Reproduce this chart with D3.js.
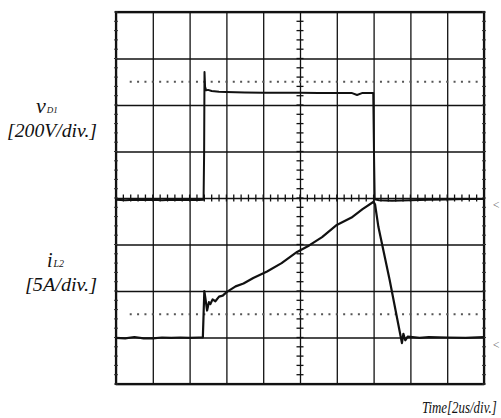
<!DOCTYPE html>
<html>
<head>
<meta charset="utf-8">
<script src="https://cdn.jsdelivr.net/npm/d3@7"></script>
<style>
  body { margin: 0; background: #fff; }
  svg { display: block; }
  .grid line { stroke: #111; stroke-width: 1.3; }
  .grid path { display: none; }
  .lbl { font-family: "Liberation Serif", "DejaVu Serif", serif; font-style: italic; fill: #111; }
</style>
</head>
<body>
<div id="chart"></div>
<script>
// time in us (2us/div, 10 div)
var timeTicks = [0, 2, 4, 6, 8, 10, 12, 14, 16, 18, 20];
// graticule rows in divisions
var divTicks = [-4, -3, -2, -1, 0, 1, 2, 3, 4];

// v_D1 [V], 200V/div, zero on centre line
var vTime = [0, 0.5, 1, 1.5, 2, 2.5, 3, 3.5, 4, 4.5, 4.76, 4.79, 4.81, 4.84, 4.9, 5.0, 5.2, 5.6, 6.0, 7, 8, 9, 10, 11, 12, 12.8, 13.1, 13.4, 13.98, 14.02, 14.06, 14.3, 15, 16, 17, 18, 19, 20];
var vD1   = [-8, -10, -7, -9, -8, -10, -7, -9, -8, -9, -8, 200, 542, 478, 463, 465, 460, 457, 456, 454, 453, 453, 453, 452, 452, 452, 443, 452, 452, 200, -6, -10, -12, -10, -8, -6, -4, -4];

// i_L2 [A], 5A/div, zero 3 div below centre
var iTime = [0, 0.5, 1, 1.5, 2, 2.5, 3, 3.5, 4, 4.5, 4.72, 4.76, 4.8, 4.86, 4.95, 5.05, 5.13, 5.25, 5.4, 5.6, 5.8, 6.03, 6.5, 6.93, 7.46, 8.21, 9.0, 9.84, 10.5, 11.2, 12.0, 12.8, 13.4, 14.0, 14.08, 14.26, 14.87, 15.54, 15.62, 15.72, 15.85, 16.5, 17, 18, 19, 20];
var iL2   = [-0.05, -0.1, 0.05, -0.1, -0.1, 0, -0.05, 0, -0.05, 0, 0, 2.5, 5.0, 4.2, 2.9, 3.8, 3.6, 4.1, 3.9, 4.4, 4.5, 4.9, 5.5, 5.8, 6.4, 7.1, 8.0, 9.2, 9.9, 10.8, 12.1, 12.9, 13.8, 14.6, 14.3, 11.9, 6.2, -0.6, 0.4, -0.3, 0.1, -0.05, 0.05, 0, -0.05, 0.05];

var W = 501, H = 418;
var margin = {top: 12, right: 17, bottom: 34, left: 116};
var width = W - margin.left - margin.right,
    height = H - margin.top - margin.bottom;

var svg = d3.select("#chart").append("svg")
    .attr("width", W)
    .attr("height", H);

var g = svg.append("g").attr("transform", "translate(" + margin.left + "," + margin.top + ")");

var x = d3.scaleLinear().domain([0, 20]).range([0, width]);
var y = d3.scaleLinear().domain([-4, 4]).range([height, 0]);

// graticule
g.append("g")
    .attr("class", "grid")
    .attr("transform", "translate(0," + height + ")")
    .call(d3.axisBottom(x).tickValues(timeTicks).tickSizeInner(-height).tickSizeOuter(0).tickFormat(""));

g.append("g")
    .attr("class", "grid")
    .call(d3.axisLeft(y).tickValues(divTicks).tickSizeInner(-width).tickSizeOuter(0).tickFormat(""));

g.append("rect")
    .attr("width", width)
    .attr("height", height)
    .attr("fill", "none")
    .attr("stroke", "#111")
    .attr("stroke-width", 2.2);

// minor ticks on centre cross
var minorX = d3.range(0, 20.01, 0.4),
    minorY = d3.range(-4, 4.01, 0.2);

g.append("g").selectAll("line")
    .data(minorX)
    .enter().append("line")
    .attr("x1", d => x(d)).attr("x2", d => x(d))
    .attr("y1", y(0) - 3.5).attr("y2", y(0) + 3.5)
    .attr("stroke", "#111").attr("stroke-width", 1.3);

g.append("g").selectAll("line")
    .data(minorY)
    .enter().append("line")
    .attr("x1", x(10) - 3.5).attr("x2", x(10) + 3.5)
    .attr("y1", d => y(d)).attr("y2", d => y(d))
    .attr("stroke", "#111").attr("stroke-width", 1.3);

// small ticks along side edges
[0, 20].forEach(function(edge) {
    g.append("g").selectAll("line")
        .data(minorY)
        .enter().append("line")
        .attr("x1", x(edge) - 2).attr("x2", x(edge) + 2)
        .attr("y1", d => y(d)).attr("y2", d => y(d))
        .attr("stroke", "#333").attr("stroke-width", 1);
});

// dotted level lines
[2.5, -2.5].forEach(function(lv) {
    g.append("g").selectAll("rect")
        .data(d3.range(0.8, 19.7, 0.4))
        .enter().append("rect")
        .attr("x", d => x(d) - 1)
        .attr("y", y(lv) - 1)
        .attr("width", 2)
        .attr("height", 2)
        .attr("fill", "#555");
});

// traces
var lineV = d3.line()
    .x(d => x(d[0]))
    .y(d => y(d[1] / 200));

var lineI = d3.line()
    .x(d => x(d[0]))
    .y(d => y(d[1] / 5 - 3));

g.append("path")
    .attr("d", lineV(d3.zip(vTime, vD1)))
    .attr("fill", "none")
    .attr("stroke", "#111")
    .attr("stroke-width", 2)
    .attr("stroke-linejoin", "round");

g.append("path")
    .attr("d", lineI(d3.zip(iTime, iL2)))
    .attr("fill", "none")
    .attr("stroke", "#111")
    .attr("stroke-width", 2.2)
    .attr("stroke-linejoin", "round");

// channel ground markers on right
[0, -3].forEach(function(lv) {
    svg.append("text")
        .attr("class", "lbl")
        .attr("x", margin.left + width + 8)
        .attr("y", margin.top + y(lv) + 11)
        .attr("font-size", 12)
        .style("fill", "#666")
        .text("<");
});

// labels
var t1 = svg.append("text").attr("class", "lbl").attr("x", 36).attr("y", 113);
t1.append("tspan").attr("font-size", 22).text("v");
t1.append("tspan").attr("font-size", 9).attr("dx", 1).text("D1");

svg.append("text").attr("class", "lbl")
    .attr("x", 7).attr("y", 136.5)
    .attr("font-size", 18)
    .attr("textLength", 90).attr("lengthAdjust", "spacingAndGlyphs")
    .text("[200V/div.]");

var t2 = svg.append("text").attr("class", "lbl").attr("x", 47).attr("y", 266.5);
t2.append("tspan").attr("font-size", 20).text("i");
t2.append("tspan").attr("font-size", 10).attr("dx", 1).text("L2");

svg.append("text").attr("class", "lbl")
    .attr("x", 25).attr("y", 291)
    .attr("font-size", 18)
    .attr("textLength", 72).attr("lengthAdjust", "spacingAndGlyphs")
    .text("[5A/div.]");

svg.append("text").attr("class", "lbl")
    .attr("transform", "translate(422,412.5) scale(0.76,1)")
    .attr("font-size", 17)
    .text("Time[2us/div.]");
</script>
</body>
</html>
